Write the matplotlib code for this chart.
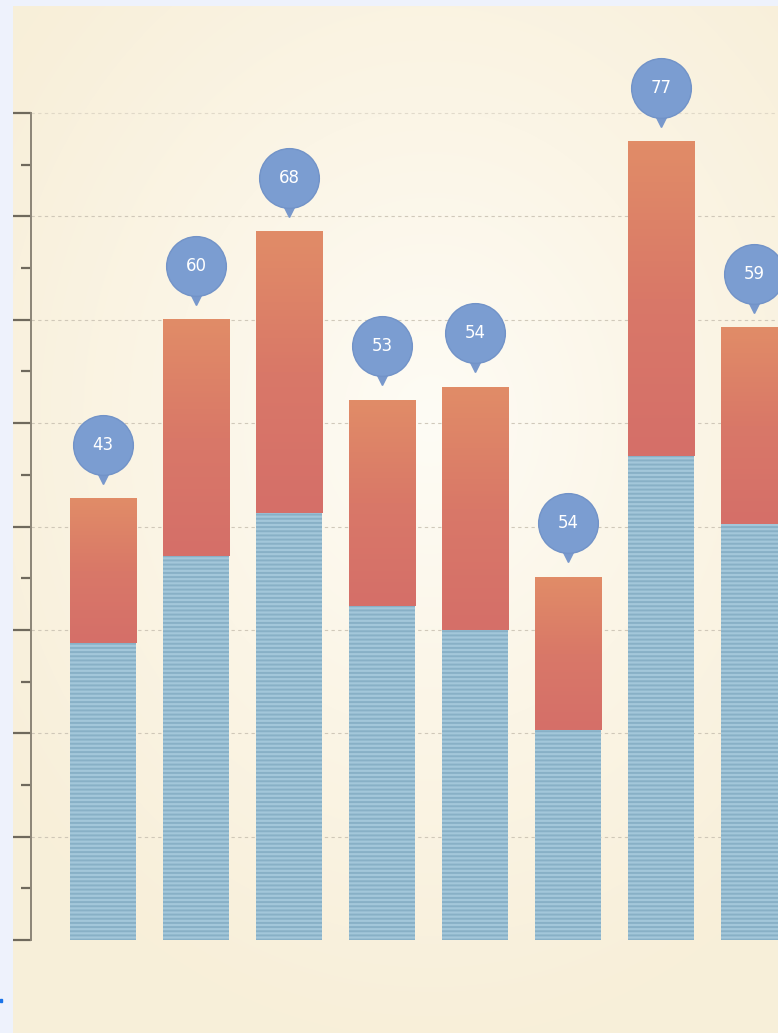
import numpy as np
import matplotlib.pyplot as plt
from matplotlib.colors import LinearSegmentedColormap
from matplotlib.transforms import offset_copy

# values (axis runs 0..80)
labels = ["43", "60", "68", "53", "54", "54", "77", "59"]
totals = [42.7, 60.0, 68.5, 52.2, 53.5, 35.1, 77.2, 59.2]
lower = [28.7, 37.1, 41.3, 32.3, 30.0, 20.3, 46.8, 40.2]
grid_levels = [10, 20, 30, 40, 50, 60, 70, 80]

plt.rcParams["hatch.linewidth"] = 1.4
fig = plt.figure(figsize=(7.78, 10.33), dpi=100)
fig.patch.set_facecolor("#eef2fc")

# cream background with soft radial glow
bg = fig.add_axes([13 / 778, 0, 1 - 13 / 778, 1027 / 1033])
bg.axis("off")
yy, xx = np.mgrid[6:1033, 13:778]
r = np.sqrt(((xx - 430) / 520.0) ** 2 + ((yy - 420) / 620.0) ** 2)
r = np.clip(r, 0, 1)
glow = LinearSegmentedColormap.from_list("glow", ["#fefcf5", "#fbf5e6", "#f8efd9"])
bg.imshow(r, cmap=glow, aspect="auto", extent=(0, 1, 0, 1), origin="upper")
bg.set_xlim(0, 1)
bg.set_ylim(0, 1)
# small blue mark at the lower-left edge
fig.add_artist(plt.Rectangle((0, 31 / 1033), 2 / 778, 3 / 1033,
                             transform=fig.transFigure, color="#1a73e8"))

ax = fig.add_axes([31 / 778, 93 / 1033, 747 / 778, 940 / 1033])
ax.set_facecolor("none")
x = np.arange(len(totals))
w = 0.72

for lv in grid_levels:
    ax.axhline(lv, color="#c9c1b2", lw=0.8, ls=(0, (3, 3)),
               alpha=0.5 if lv == 80 else 0.85, zorder=1)

ax.bar(x, lower, width=w, color="#a3c7da", edgecolor="#88b0c6",
       hatch="----", linewidth=0, zorder=2)

orange = LinearSegmentedColormap.from_list("org", ["#d56f69", "#d97868", "#e18c67"])
grad = np.linspace(0, 1, 100).reshape(-1, 1)
for i in range(len(totals)):
    ax.imshow(grad, cmap=orange, aspect="auto", origin="lower", zorder=2,
              extent=(x[i] - w / 2, x[i] + w / 2, lower[i], totals[i]))

# bubbles with pointer
t_circ = offset_copy(ax.transData, fig=fig, y=54, units="dots")
t_tri = offset_copy(ax.transData, fig=fig, y=21, units="dots")
ax.plot(x, totals, "v", ms=8, color="#7898cc", transform=t_tri, zorder=3)
ax.plot(x, totals, "o", ms=43, color="#7b9dd1", mec="#7293c8", mew=1,
        transform=t_circ, zorder=4)
for i in range(len(totals)):
    ax.text(x[i], totals[i], labels[i], transform=t_circ, ha="center",
            va="center", color="white", fontsize=12, zorder=5)

ax.set_xlim(-0.774, 7.258)
ax.set_ylim(0, 940 / 10.3375)
ax.set_xticks([])
ax.set_yticks(range(0, 81, 10))
ax.set_yticks(range(5, 80, 10), minor=True)
ax.set_yticklabels([])
ax.tick_params(axis="y", which="major", length=13, width=1.6, color="#6f695c")
ax.tick_params(axis="y", which="minor", length=7.5, width=1.6, color="#6f695c")
for s in ["top", "right", "bottom"]:
    ax.spines[s].set_visible(False)
ax.spines["left"].set_bounds(0, 80)
ax.spines["left"].set_color("#8c8577")
ax.spines["left"].set_linewidth(1.4)

fig.savefig("out.png", dpi=100, facecolor=fig.get_facecolor())
